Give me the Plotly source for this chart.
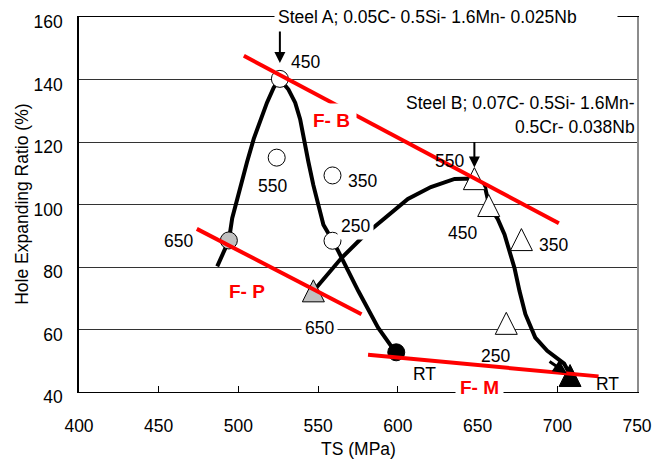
import plotly.graph_objects as go

# Steel A: coiling temperature, tensile strength (MPa), hole expanding ratio (%)
temp_a = ["450", "550", "350", "250", "650", "RT"]
ts_a = [526, 524, 559, 559, 494, 599]
her_a = [140.2, 115.0, 109.3, 88.4, 88.5, 52.7]

# Steel B
temp_b = ["550", "450", "350", "250", "650", "RT"]
ts_b = [648, 657, 677.5, 668, 547, 708]
her_b = [108.3, 99.7, 88.8, 62.0, 72.4, 45.3]

# hand-drawn trend curves
curve_a_ts = [486.7, 494.0, 496.1, 500.3, 505.4, 509.6, 513.8, 517.9, 522.1, 525.8,
              531.4, 535.6, 538.7, 540.8, 543.9, 547.0, 550.1, 553.3, 559.1, 562.7,
              575.2, 587.6, 598.6]
curve_a_her = [80.2, 88.5, 95.6, 104.0, 113.6, 121.0, 127.3, 132.6, 137.4, 140.2,
               136.8, 132.6, 127.3, 121.0, 113.6, 106.2, 99.8, 93.5, 88.4, 85.0,
               72.3, 60.6, 52.7]
curve_b_ts = [547.2, 564.5, 579.5, 588.8, 606.3, 620.7, 635.6, 647.9, 654.4, 657.3,
              662.5, 666.9, 670.0, 673.2, 676.3, 680.0, 686.2, 693.7, 704.3, 708.3]
curve_b_her = [72.4, 82.8, 90.4, 94.5, 101.8, 105.6, 108.2, 108.3, 106.2, 99.7,
               95.5, 90.4, 85.0, 79.6, 72.3, 64.9, 57.4, 53.2, 49.1, 45.3]

# microstructure region boundaries
fb_ts, fb_her = [503.4, 701.0], [147.6, 94.0]
fp_ts, fp_her = [473.9, 577.2], [92.2, 64.9]
fm_ts, fm_her = [581.3, 725.9], [51.9, 45.0]

region_names = ["F- B", "F- P", "F- M"]
region_ts = [558.5, 505.4, 651.0]
region_her = [126.8, 72.3, 41.6]

x_ticks = [400, 450, 500, 550, 600, 650, 700, 750]
y_ticks = [40, 60, 80, 100, 120, 140, 160]

title_a = "Steel A; 0.05C- 0.5Si- 1.6Mn- 0.025Nb"
title_b = ["Steel B; 0.07C- 0.5Si- 1.6Mn-", "0.5Cr- 0.038Nb"]

# ---- styling ----
W, H = 664, 464
M = dict(l=79, r=24, t=14, b=72)
FONT = "Liberation Sans, Arial, sans-serif"
FS = 17.5
TRI = 22
CIRC = 17

fill = {"650": "#c0c0c0", "RT": "black"}
fills_a = [fill.get(t, "white") for t in temp_a]
fills_b = [fill.get(t, "white") for t in temp_b]

# arrow-up markers have their tip on the data point; an overlaid axis lifts
# them by half a marker so the triangle is centred on the value
plot_w = W - M["l"] - M["r"]
plot_h = H - M["t"] - M["b"]
yr = [y_ticks[0], y_ticks[-1]]
lift = (TRI / 2) / (plot_h / (yr[1] - yr[0]))

fig = go.Figure()

for xs, ys in [(curve_a_ts, curve_a_her), (curve_b_ts, curve_b_her)]:
    fig.add_trace(go.Scatter(x=xs, y=ys, mode="lines",
                             line=dict(color="black", width=4, shape="linear")))
fig.add_trace(go.Scatter(x=ts_a, y=her_a, mode="markers",
                         marker=dict(symbol="circle", size=CIRC, color=fills_a,
                                     line=dict(color="black", width=1))))
fig.add_trace(go.Scatter(x=ts_b, y=her_b, mode="markers", yaxis="y2",
                         marker=dict(symbol="arrow-up", size=TRI, color=fills_b,
                                     line=dict(color="black", width=1))))
for xs, ys in [(fb_ts, fb_her), (fp_ts, fp_her), (fm_ts, fm_her)]:
    fig.add_trace(go.Scatter(x=xs, y=ys, mode="lines", yaxis="y3",
                             line=dict(color="#ff0000", width=4)))

ann = []

# temperature labels, offset in pixels from their points
offs_a = {"450": (26, 17), "550": (-4, -28), "350": (30, -6),
          "250": (23, 15), "650": (-50, -1), "RT": (28, -22)}
offs_b = {"550": (-25, 18), "450": (-26, -28), "350": (32, -5),
          "250": (-11, -33), "650": (6, -37), "RT": (37, -9)}
boxed = {("A", "250"), ("B", "650")}
for tag, temps, xs, ys, offs in [("A", temp_a, ts_a, her_a, offs_a),
                                 ("B", temp_b, ts_b, her_b, offs_b)]:
    for t, x, y in zip(temps, xs, ys):
        dx, dy = offs[t]
        a = dict(x=x, y=y, xref="x", yref="y", text=t, showarrow=False,
                 xshift=dx, yshift=dy, font=dict(family=FONT, size=FS, color="black"))
        if (tag, t) in boxed:
            a.update(bgcolor="white", borderpad=3)
        ann.append(a)

# region labels
for name, x, y in zip(region_names, region_ts, region_her):
    a = dict(x=x, y=y, xref="x", yref="y", text="<b>%s</b>" % name, showarrow=False,
             font=dict(family=FONT, size=19, color="#ff0000"))
    if name != "F- P":
        a.update(bgcolor="white", borderpad=6 if name == "F- B" else 4)
    ann.append(a)

# steel compositions with arrows to the peak points
ann.append(dict(x=(275 - M["l"]) / plot_w, y=1.0, xref="paper", yref="paper",
                xanchor="left", yanchor="middle", text=title_a, showarrow=False,
                align="left", width=336, bgcolor="white", borderpad=3,
                font=dict(family=FONT, size=FS, color="black")))
ann.append(dict(x=1.0, y=0.770, xref="paper", yref="paper", xanchor="right", yanchor="middle",
                text=title_b[0], showarrow=False, font=dict(family=FONT, size=FS, color="black")))
ann.append(dict(x=1.0, y=0.706, xref="paper", yref="paper", xanchor="right", yanchor="middle",
                text=title_b[1], showarrow=False, font=dict(family=FONT, size=FS, color="black")))
ann.append(dict(x=ts_a[0], y=her_a[0], xref="x", yref="y", text="", showarrow=True,
                ax=0, ay=-49, standoff=16, arrowhead=2, arrowsize=1.1, arrowwidth=2,
                arrowcolor="black"))
ann.append(dict(x=ts_b[0], y=her_b[0], xref="x", yref="y", text="", showarrow=True,
                ax=0, ay=-38, standoff=11, arrowhead=2, arrowsize=1.1, arrowwidth=2,
                arrowcolor="black"))
ann.append(dict(x=ts_b[5], y=her_b[5], xref="x", yref="y", text="", showarrow=True,
                ax=-22, ay=-15, standoff=4, arrowhead=2, arrowsize=0.9, arrowwidth=3,
                arrowcolor="black"))

# axis titles
ann.append(dict(x=-58 / plot_w, y=0.5, xref="paper", yref="paper",
                xanchor="center", yanchor="middle",
                text="Hole Expanding Ratio (%)", textangle=-90, showarrow=False,
                font=dict(family=FONT, size=FS, color="black")))
ann.append(dict(x=0.5, y=-57 / plot_h, xref="paper", yref="paper",
                xanchor="center", yanchor="middle",
                text="TS (MPa)", showarrow=False, font=dict(family=FONT, size=FS, color="black")))

fig.update_layout(
    width=W, height=H, margin=M, showlegend=False,
    paper_bgcolor="white", plot_bgcolor="white",
    font=dict(family=FONT, size=FS, color="black"),
    annotations=ann,
    xaxis=dict(range=[x_ticks[0], x_ticks[-1]], tickvals=x_ticks, showgrid=False,
               zeroline=False, showline=True, mirror=True, linecolor="black", linewidth=1,
               ticks="inside", ticklen=6, tickcolor="black", ticklabelstandoff=18,
               tickfont=dict(family=FONT, size=FS, color="black")),
    yaxis=dict(range=yr, tickvals=y_ticks, showgrid=True, gridcolor="#333333", gridwidth=1,
               zeroline=False, showline=True, linecolor="black", linewidth=1.5,
               ticks="", ticklabelstandoff=11, ticklabelshift=5,
               tickfont=dict(family=FONT, size=FS, color="black")),
    yaxis2=dict(range=[yr[0] - lift, yr[1] - lift], overlaying="y", side="right",
                showgrid=False, zeroline=False, showticklabels=False, ticks="",
                showline=True, linecolor="#8c8c8c", linewidth=1.5),
    yaxis3=dict(range=yr, overlaying="y", visible=False),
)

fig.write_html("out.html")
